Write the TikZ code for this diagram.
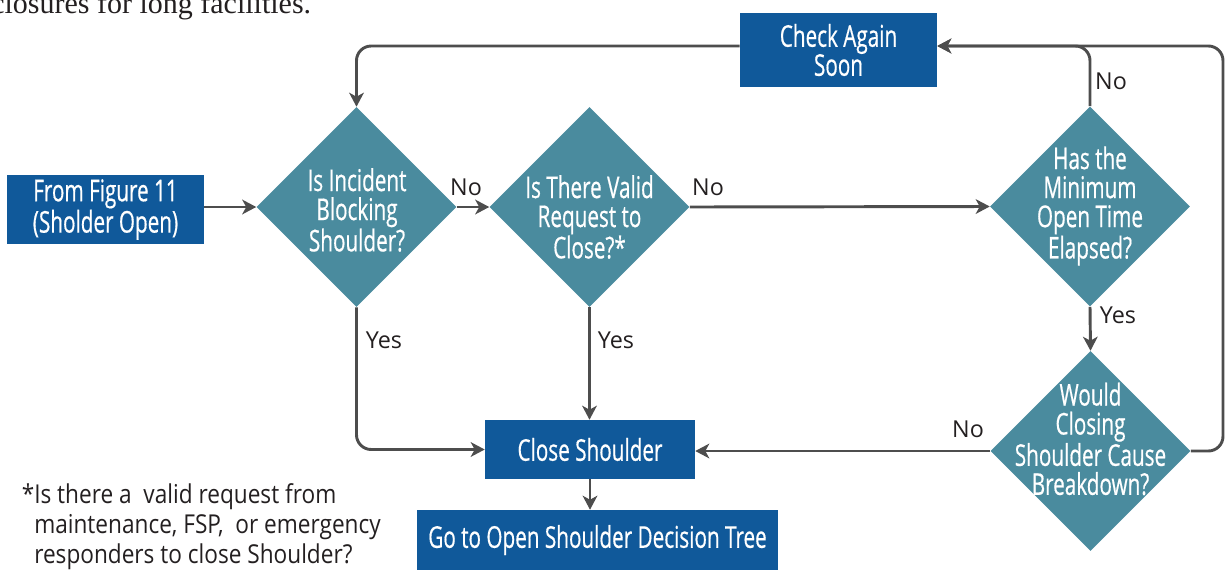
\documentclass[tikz,border=0pt]{standalone}
\usepackage{fontspec}
\usetikzlibrary{arrows.meta,shapes.geometric}
\newfontfamily\boxfont[FakeStretch=0.69,FakeBold=0.5]{Open Sans}
\newfontfamily\tagfont{Open Sans}
\newfontfamily\notefont[FakeStretch=0.87]{Open Sans}
\newfontfamily\bodyserif{Liberation Serif}
\definecolor{boxblue}{RGB}{16,89,154}
\definecolor{diateal}{RGB}{74,139,158}
\definecolor{wiregray}{RGB}{77,77,77}
\definecolor{inkblack}{RGB}{35,31,32}

\begin{document}
\begin{tikzpicture}[x=0.75pt,y=-0.75pt,
  bluebox/.style={rectangle, fill=boxblue, text=white, inner sep=0pt, align=center,
    font=\boxfont\fontsize{22.5}{21.75}\selectfont},
  decision/.style={diamond, fill=diateal, inner sep=0pt, minimum width=150pt, minimum height=150pt},
  qtext/.style={text=white, align=center, inner sep=0pt, font=\boxfont\fontsize{22.5}{21.75}\selectfont},
  wire/.style={draw=wiregray, line width=2.2pt, rounded corners=11pt},
  flow/.style={wire, -{Stealth[length=10.5pt,width=11pt,inset=3pt]}},
  tag/.style={text=inkblack, inner sep=0pt, font=\tagfont\fontsize{17.5}{19}\selectfont, anchor=base},
]
\useasboundingbox (0,0) rectangle (1225,569);
\clip (0,0) rectangle (1225,569);

% running text above the chart
\node[anchor=base west, inner sep=0pt, text=inkblack,
  font=\bodyserif\fontsize{22.5}{27}\selectfont] (lead) at (-9,13) {closures for long facilities.};

% process boxes
\node[bluebox, minimum width=147.75pt, minimum height=51.75pt] (start) at (105.5,209.5) {From Figure 11\\(Sholder Open)};
\node[bluebox, minimum width=147.75pt, minimum height=55.5pt] (again) at (838.5,50) {Check Again\\Soon};
\node[bluebox, minimum width=157.5pt, minimum height=44.25pt] (close) at (590,449.5) {Close Shoulder};
\node[bluebox, minimum width=270.75pt, minimum height=45pt] (goto) at (597.5,540) {Go to Open Shoulder Decision Tree};

% decisions
\node[decision] (d1) at (356.5,207) {};
\node[decision] (d2) at (589.5,207) {};
\node[decision] (d3) at (1090,206.5) {};
\node[decision] (d4) at (1090.5,451) {};
\node[qtext] (q1) at (357,210) {Is Incident\\Blocking\\Shoulder?};
\node[qtext] (q2) at (589.5,217) {Is There Valid\\Request to\\Close?*};
\node[qtext] (q3) at (1090,206) {Has the\\Minimum\\Open Time\\Elapsed?};
\node[qtext] (q4) at (1090.5,439) {Would\\Closing\\Shoulder Cause\\Breakdown?};

% routing rails
\coordinate (rail) at (0,46);
\coordinate (rightrail) at (1223,0);

% connectors
\draw[flow] (d1.west -| start.east) -- (d1.west);
\draw[flow] (d1.east) -- (d2.west);
\draw[flow] (d2.east) -- (d3.west);
\draw[flow] (d1.south) -- (d1.south |- close.west) -- (close.west);
\draw[flow] (d2.south) -- (d2.south |- close.north);
\draw[flow] (d3.south) -- (d4.north);
\draw[flow] (d4.west) -- (d4.west -| close.east);
\draw[flow] (close.south) -- (close.south |- goto.north);
\draw[flow] (d3.north) -- (d3.north |- rail) -- (again.east |- rail);
\draw[flow] (d4.east) -- (d4.east -| rightrail) -- (rightrail |- rail) -- (again.east |- rail);
\draw[flow] (again.west |- rail) -- (d1.north |- rail) -- (d1.north);

% branch labels
\node[tag] (no1) at (466,195) {No};
\node[tag] (no2) at (708,195) {No};
\node[tag] (yes1) at (384,348) {Yes};
\node[tag] (yes2) at (616,348) {Yes};
\node[tag] (yes3) at (1118,323) {Yes};
\node[tag] (no3) at (968,437) {No};
\node[tag] (no4) at (1111,89) {No};

% footnote
\node[anchor=north west, align=left, inner sep=0pt, text=inkblack,
  font=\notefont\fontsize{19.5}{22.5}\selectfont] (note) at (34,483)
  {\llap{*}Is there a\ \ valid request from\\maintenance, FSP,\ \ or emergency\\responders to close Shoulder?};
\end{tikzpicture}
\end{document}
